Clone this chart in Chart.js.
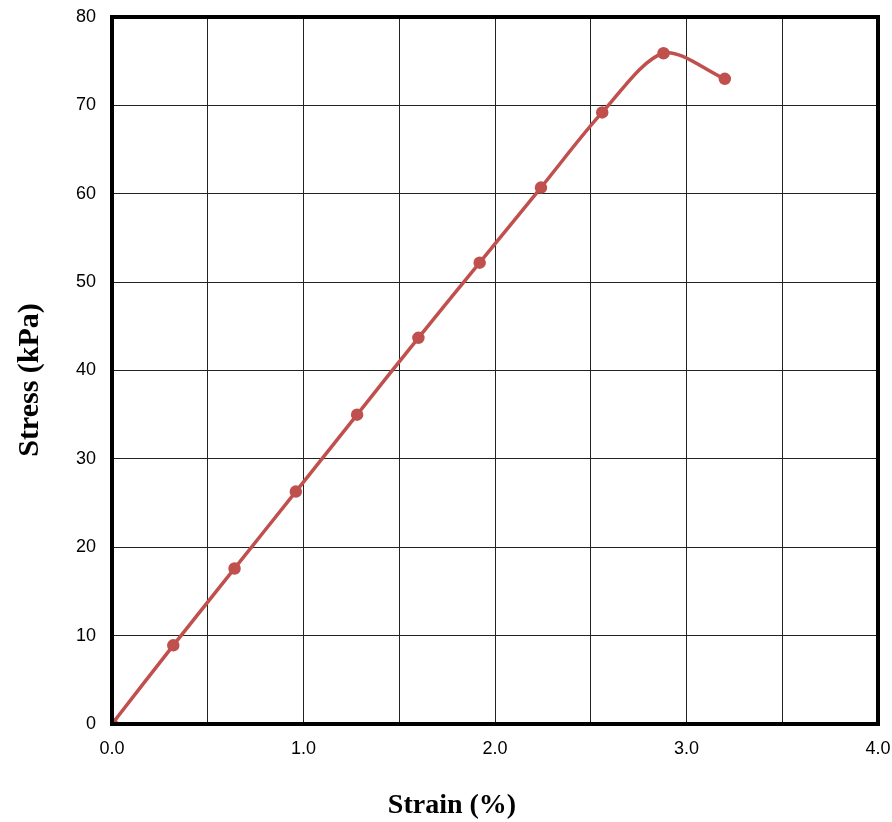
<!DOCTYPE html>
<html>
<head>
<meta charset="utf-8">
<script src="https://cdn.jsdelivr.net/npm/chart.js@4/dist/chart.umd.min.js"></script>
<style>
  html, body { margin: 0; padding: 0; background: #fff; }
  #wrap { width: 892px; height: 822px; position: relative; }
</style>
</head>
<body>
<div id="wrap"><canvas id="myChart"></canvas></div>
<script>
// strain (%) vs stress (kPa)
const strain = [0, 0.32, 0.64, 0.96, 1.28, 1.60, 1.92, 2.24, 2.56, 2.88, 3.20];
const stress = [0, 8.9, 17.6, 26.3, 35.0, 43.7, 52.2, 60.7, 69.2, 75.9, 73.0];

const xTitle = 'Strain (%)';
const yTitle = 'Stress (kPa)';

// thick black frame round the plot area + axis titles
const frame = {
  id: 'frame',
  afterDraw(chart) {
    const a = chart.chartArea;
    const ctx = chart.ctx;
    ctx.save();
    ctx.strokeStyle = '#000';
    ctx.lineWidth = 4;
    ctx.strokeRect(a.left, a.top, a.right - a.left, a.bottom - a.top);

    ctx.fillStyle = '#000';
    ctx.textAlign = 'center';
    ctx.textBaseline = 'middle';
    ctx.font = 'bold 28px "Liberation Serif", "Times New Roman", serif';
    ctx.fillText(xTitle, 452, 806);
    ctx.translate(30, 380);
    ctx.rotate(-Math.PI / 2);
    ctx.font = 'bold 30px "Liberation Serif", "Times New Roman", serif';
    ctx.fillText(yTitle, 0, 0);
    ctx.restore();
  },
};

const tickFont = {family: '"Liberation Sans", Arial, sans-serif', size: 18};

new Chart(document.getElementById('myChart'), {
  type: 'scatter',
  data: {
    datasets: [{
      data: strain.map((x, i) => ({x: x, y: stress[i]})),
      showLine: true,
      borderColor: '#C0504D',
      backgroundColor: '#C0504D',
      borderWidth: 3.5,
      tension: 0.3,
      pointRadius: 4.5,
      pointHoverRadius: 4.5,
    }],
  },
  options: {
    responsive: true,
    maintainAspectRatio: false,
    animation: false,
    layout: {padding: {top: 0, right: 0, left: 0, bottom: 0}},
    plugins: {legend: {display: false}, tooltip: {enabled: false}},
    scales: {
      x: {
        type: 'linear',
        min: 0,
        max: 4,
        afterFit(scale) {
          scale.height = 98;
          scale.paddingRight = 14;
        },
        grid: {color: '#222', lineWidth: 1, drawTicks: false},
        border: {display: false},
        ticks: {
          stepSize: 0.5,
          padding: 14,
          color: '#000',
          font: tickFont,
          maxRotation: 0,
          autoSkip: false,
          callback: (v) => (Math.abs(v % 1) < 1e-9 ? v.toFixed(1) : ''),
        },
      },
      y: {
        type: 'linear',
        min: 0,
        max: 80,
        afterFit(scale) {
          scale.width = 112;
          scale.paddingTop = 17;
        },
        grid: {color: '#222', lineWidth: 1, drawTicks: false},
        border: {display: false},
        ticks: {stepSize: 10, padding: 16, color: '#000', font: tickFont},
      },
    },
  },
  plugins: [frame],
});
</script>
</body>
</html>
